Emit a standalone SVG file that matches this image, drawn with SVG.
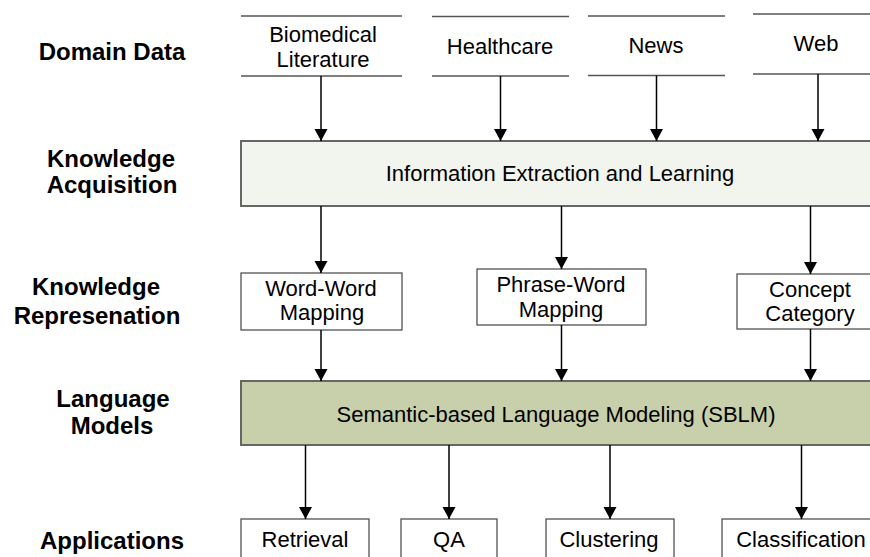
<svg xmlns="http://www.w3.org/2000/svg" width="870" height="557" viewBox="0 0 870 557">
<style>
  .lbl { font-family: "Liberation Sans", Arial, sans-serif; font-size: 24px; font-weight: bold; fill: #000; text-anchor: middle; }
  .txt { font-family: "Liberation Sans", Arial, sans-serif; font-size: 22px; fill: #000; text-anchor: middle; }
  .store { stroke: #555; stroke-width: 1.5; fill: none; }
  .box { fill: #fff; stroke: #444; stroke-width: 1.2; }
  .ie { fill: #f2f4ee; stroke: #666; stroke-width: 2; }
  .sblm { fill: #c8cfab; stroke: #666; stroke-width: 2; }
  .conn line { stroke: #000; stroke-width: 1.5; marker-end: url(#arr); }
</style>
<defs>
  <marker id="arr" markerUnits="userSpaceOnUse" markerWidth="13" markerHeight="14" refX="12" refY="6.5" orient="auto">
    <path d="M0,0 L12,6.5 L0,13 Z" fill="#000"/>
  </marker>
</defs>
<rect width="870" height="557" fill="#fff"/>

<g id="labels">
  <text class="lbl" x="112" y="60">Domain Data</text>
  <text class="lbl" x="111" y="167">Knowledge</text>
  <text class="lbl" x="112" y="193">Acquisition</text>
  <text class="lbl" x="96" y="295">Knowledge</text>
  <text class="lbl" x="97" y="324">Represenation</text>
  <text class="lbl" x="113" y="407">Language</text>
  <text class="lbl" x="112" y="434">Models</text>
  <text class="lbl" x="112" y="549">Applications</text>
</g>

<g id="biomedical">
  <line class="store" x1="241" y1="16" x2="402" y2="16"/>
  <line class="store" x1="241" y1="76" x2="402" y2="76"/>
  <text class="txt" x="323" y="42">Biomedical</text>
  <text class="txt" x="323" y="67">Literature</text>
</g>
<g id="healthcare">
  <line class="store" x1="432" y1="16.5" x2="569" y2="16.5"/>
  <line class="store" x1="432" y1="76" x2="569" y2="76"/>
  <text class="txt" x="500" y="54">Healthcare</text>
</g>
<g id="news">
  <line class="store" x1="588" y1="16" x2="725" y2="16"/>
  <line class="store" x1="588" y1="75.5" x2="725" y2="75.5"/>
  <text class="txt" x="656" y="53">News</text>
</g>
<g id="web">
  <line class="store" x1="753" y1="14" x2="870" y2="14"/>
  <line class="store" x1="753" y1="74" x2="870" y2="74"/>
  <text class="txt" x="816" y="51">Web</text>
</g>

<g id="ie">
  <rect class="ie" x="241" y="141" width="640" height="65"/>
  <text class="txt" x="560" y="181">Information Extraction and Learning</text>
</g>

<g id="wordword">
  <rect class="box" x="241" y="273" width="161" height="57"/>
  <text class="txt" x="321" y="296">Word-Word</text>
  <text class="txt" x="322" y="320">Mapping</text>
</g>
<g id="phraseword">
  <rect class="box" x="477" y="269" width="169" height="56"/>
  <text class="txt" x="561" y="292">Phrase-Word</text>
  <text class="txt" x="561" y="317">Mapping</text>
</g>
<g id="concept">
  <rect class="box" x="737" y="274" width="140" height="55"/>
  <text class="txt" x="810" y="297">Concept</text>
  <text class="txt" x="810" y="321">Category</text>
</g>

<g id="sblm">
  <rect class="sblm" x="241" y="381" width="640" height="64"/>
  <text class="txt" x="556" y="422">Semantic-based Language Modeling (SBLM)</text>
</g>

<g id="retrieval">
  <rect class="box" x="241" y="519" width="128" height="50"/>
  <text class="txt" x="305" y="547">Retrieval</text>
</g>
<g id="qa">
  <rect class="box" x="401" y="519" width="96" height="50"/>
  <text class="txt" x="449" y="547">QA</text>
</g>
<g id="clustering">
  <rect class="box" x="546" y="519" width="128" height="50"/>
  <text class="txt" x="609" y="547">Clustering</text>
</g>
<g id="classification">
  <rect class="box" x="722" y="519" width="160" height="50"/>
  <text class="txt" x="801" y="547">Classification</text>
</g>

<g id="connectors" class="conn">
  <line x1="321" y1="76" x2="321" y2="141"/>
  <line x1="500.5" y1="76" x2="500.5" y2="141"/>
  <line x1="656.5" y1="75.5" x2="656.5" y2="141"/>
  <line x1="818" y1="74" x2="818" y2="141"/>
  <line x1="321" y1="206" x2="321" y2="273"/>
  <line x1="561.5" y1="206" x2="561.5" y2="269"/>
  <line x1="810.5" y1="206" x2="810.5" y2="274"/>
  <line x1="321" y1="330" x2="321" y2="381"/>
  <line x1="561.5" y1="325" x2="561.5" y2="381"/>
  <line x1="810.5" y1="329" x2="810.5" y2="381"/>
  <line x1="305.5" y1="445" x2="305.5" y2="519"/>
  <line x1="449" y1="445" x2="449" y2="519"/>
  <line x1="610" y1="445" x2="610" y2="519"/>
  <line x1="801.5" y1="445" x2="801.5" y2="519"/>
</g>
</svg>
